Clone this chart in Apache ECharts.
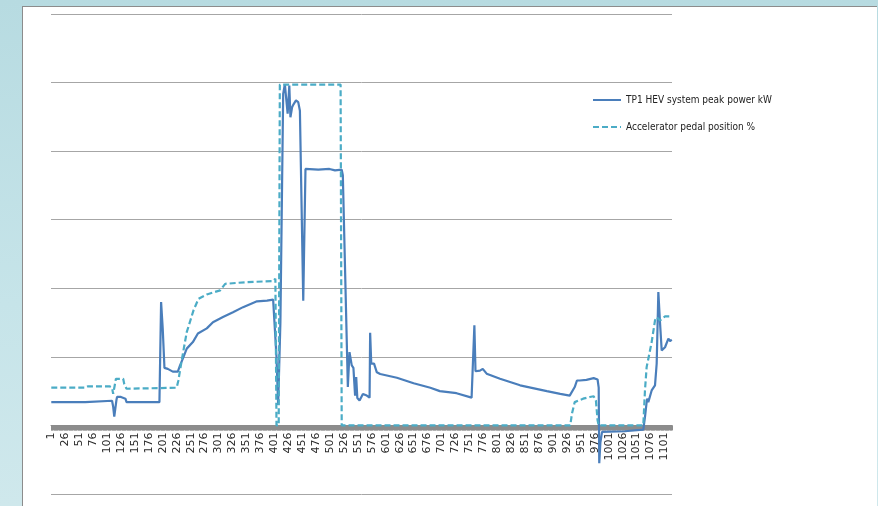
<!DOCTYPE html>
<html>
<head>
<meta charset="utf-8">
<script src="https://cdn.jsdelivr.net/npm/echarts@6/dist/echarts.min.js"></script>
<style>
  html, body { margin: 0; padding: 0; }
  body {
    width: 878px; height: 506px; overflow: hidden; position: relative;
    background: linear-gradient(180deg, #b7dbe1 0%, #c6e4e9 60%, #cfe8ec 100%);
  }
  #sheet {
    position: absolute; left: 22px; top: 6px; width: 854px; height: 500px;
    background: #ffffff; border-left: 1px solid #8c8c8c; border-top: 1px solid #8c8c8c;
  }
  #chart { position: absolute; left: 0; top: 0; width: 878px; height: 506px; }
</style>
</head>
<body>
<div id="sheet"></div>
<div id="chart"></div>
<script>
// Sample numbers 1..1114 along the time axis
const sampleCount = 1114;
const categories = [];
for (let i = 1; i <= sampleCount; i++) categories.push(String(i));

// TP1 HEV system peak power kW: [sample, value]
const peakPower = [
  [1, 6.8], [62, 6.8], [64, 7.2], [110, 7.2], [112, 5.5], [114, 2.6], [116, 3.0],
  [118, 7.5], [119, 8.3], [126, 8.3], [128, 7.8], [134, 7.8], [136, 6.8], [195, 6.8],
  [198, 36.0], [201, 28.0], [204, 16.8], [210, 16.5], [219, 15.7], [228, 15.7],
  [232, 17.5], [237, 19.5], [244, 22.4], [255, 24.3], [264, 26.8], [280, 28.3],
  [291, 30.1], [309, 31.6], [327, 33.0], [345, 34.5], [370, 36.2], [388, 36.4],
  [399, 36.7], [402, 37.0], [405, 20.0], [408, 6.0], [410, 5.5], [412, 30.0],
  [415, 70.0], [417, 96.7], [420, 99.5], [422, 99.8], [425, 90.9], [428, 99.1],
  [430, 89.9], [433, 92.8], [435, 93.5], [440, 94.8], [444, 94.3], [447, 91.8],
  [450, 91.5], [453, 36.4], [457, 74.8], [480, 74.6], [500, 74.8], [510, 74.4],
  [522, 74.6], [524, 73.0], [533, 11.2], [536, 21.4], [540, 17.5], [543, 16.8],
  [546, 8.7], [548, 14.1], [550, 8.0], [554, 7.3], [556, 7.0], [560, 9.2],
  [567, 8.7], [572, 8.1], [573, 27.0], [575, 18.0], [580, 18.0], [585, 15.5],
  [591, 15.0], [621, 13.9], [651, 12.3], [681, 11.0], [698, 10.0], [728, 9.4],
  [755, 8.1], [760, 29.2], [762, 15.8], [770, 16.0], [775, 16.5], [782, 15.1],
  [806, 13.6], [842, 11.7], [890, 10.0], [914, 9.2], [931, 8.7], [934, 8.8],
  [940, 11.2], [944, 13.1], [949, 13.1], [961, 13.3], [974, 13.8], [977, 13.6],
  [981, 13.4], [983, 11.0], [984, -11.0], [986, -5.0], [989, -1.9], [1030, -1.7],
  [1057, -1.3], [1063, -1.2], [1066, 2.4], [1069, 6.8], [1070, 7.8], [1072, 6.8],
  [1078, 10.2], [1084, 11.7], [1087, 18.0], [1090, 38.9], [1093, 30.0], [1096, 21.9],
  [1102, 22.8], [1108, 25.3], [1111, 24.6], [1114, 25.0]
];

// Accelerator pedal position %: [sample, value]
const pedalPosition = [
  [1, 11.0], [62, 11.0], [67, 11.4], [106, 11.4], [110, 11.0], [112, 9.2], [114, 9.5],
  [117, 13.6], [130, 13.6], [132, 12.0], [136, 10.7], [196, 10.9], [226, 11.0],
  [229, 13.1], [235, 19.0], [244, 27.2], [256, 33.5], [265, 36.9], [280, 38.2],
  [304, 39.4], [313, 41.3], [352, 41.8], [399, 42.1], [403, 42.8], [405, 0],
  [409, 0], [411, 99.4], [520, 99.4], [522, 0], [932, 0], [935, 3.4], [940, 6.8],
  [943, 7.3], [955, 7.8], [967, 8.3], [974, 8.5], [978, 7.3], [981, 1.5], [983, 0],
  [1063, 0], [1066, 10.2], [1069, 17.0], [1072, 19.4], [1078, 24.3], [1084, 30.6],
  [1087, 31.6], [1093, 30.6], [1102, 31.8], [1114, 31.8]
];

const toSeriesData = pts => pts.map(p => [String(p[0]), p[1]]);

// value range of the vertical scale; the category axis sits on the zero line
const yMin = -20, yMax = 120, yStep = 20;
const gridTop = 14, gridBottom = 12, chartHeight = 506;
const plotHeight = chartHeight - gridTop - gridBottom;
const zeroOffset = -plotHeight * (0 - yMin) / (yMax - yMin);

const chart = echarts.init(document.getElementById('chart'), null, { renderer: 'canvas' });
chart.setOption({
  backgroundColor: 'transparent',
  animation: false,
  grid: { left: 51, right: 206, top: gridTop, bottom: gridBottom, containLabel: false, outerBoundsMode: 'none' },
  legend: {
    orient: 'vertical',
    left: 587,
    top: 90,
    itemWidth: 28,
    itemHeight: 10,
    itemGap: 17,
    itemStyle: { opacity: 0 },
    textStyle: { fontFamily: '"Liberation Sans Narrow", "DejaVu Sans Condensed", sans-serif', fontSize: 10, color: '#222' },
    data: ['TP1 HEV system peak power kW', 'Accelerator pedal position %']
  },
  xAxis: {
    type: 'category',
    data: categories,
    boundaryGap: true,
    offset: zeroOffset,
    axisLine: { onZero: false, lineStyle: { color: '#8c8c8c', width: 1 } },
    axisTick: { show: true, interval: 0, length: 5, lineStyle: { color: '#8c8c8c', width: 1 } },
    axisLabel: {
      interval: 24, rotate: 90, margin: 7,
      fontFamily: '"DejaVu Sans", sans-serif', fontSize: 11, color: '#2b2b2b'
    },
    splitLine: { show: false }
  },
  yAxis: {
    type: 'value',
    min: yMin, max: yMax, interval: yStep,
    axisLine: { show: false },
    axisTick: { show: false },
    axisLabel: { show: false },
    splitLine: { show: true, lineStyle: { color: '#a6a6a6', width: 1 } }
  },
  series: [
    {
      name: 'TP1 HEV system peak power kW',
      type: 'line',
      data: toSeriesData(peakPower),
      symbol: 'none',
      lineStyle: { color: '#4a7ebb', width: 2.2 },
      itemStyle: { color: '#4a7ebb' },
      z: 2
    },
    {
      name: 'Accelerator pedal position %',
      type: 'line',
      data: toSeriesData(pedalPosition),
      symbol: 'none',
      lineStyle: { color: '#4bacc6', width: 2.2, type: [6, 3] },
      itemStyle: { color: '#4bacc6' },
      z: 3
    }
  ]
});
</script>
</body>
</html>
